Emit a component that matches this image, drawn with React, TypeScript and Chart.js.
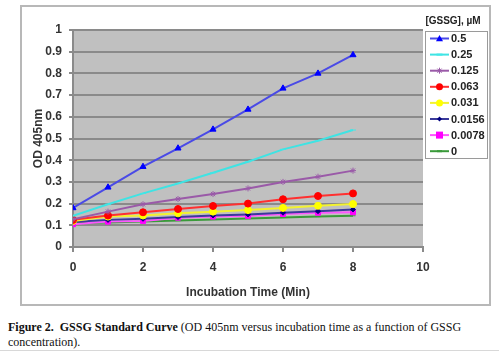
import React, { useEffect, useRef } from 'react';
import { Chart, registerables } from 'chart.js';

Chart.register(...registerables);

// ---- data ----
const times = [0, 1, 2, 3, 4, 5, 6, 7, 8];
const seriesLabels = ['0.5', '0.25', '0.125', '0.063', '0.031', '0.0156', '0.0078', '0'];
const s0500 = [0.18, 0.275, 0.37, 0.455, 0.542, 0.634, 0.731, 0.8, 0.885];
const s0250 = [0.144, 0.197, 0.247, 0.293, 0.342, 0.393, 0.45, 0.49, 0.539];
const s0125 = [0.128, 0.163, 0.197, 0.221, 0.244, 0.27, 0.3, 0.324, 0.352];
const s0063 = [0.125, 0.145, 0.16, 0.175, 0.189, 0.2, 0.22, 0.235, 0.247];
const s0031 = [0.12, 0.14, 0.145, 0.155, 0.163, 0.17, 0.18, 0.19, 0.198];
const s00156 = [0.115, 0.125, 0.13, 0.138, 0.145, 0.15, 0.158, 0.165, 0.173];
const s00078 = [0.105, 0.117, 0.12, 0.135, 0.14, 0.143, 0.152, 0.158, 0.16];
const s0000 = [0.11, 0.113, 0.118, 0.122, 0.127, 0.131, 0.136, 0.14, 0.144];
const seriesValues = [s0500, s0250, s0125, s0063, s0031, s00156, s00078, s0000];

const legendTitle = '[GSSG], µM';
const xTitle = 'Incubation Time (Min)';
const yTitle = 'OD 405nm';

// ---- styles ----
const lineColors = ['#4a4ae6', '#3fe3e3', '#9a5aa8', '#ff3030', '#f2f230', '#3a3a9a', '#ff55ff', '#3a9a3a'];
const markerColors = ['#0000ff', '#40e8e8', '#9a5aa8', '#ff0000', '#ffff00', '#000080', '#ff00ff', '#3a9a3a'];
const markerStyles = ['triangle', 'line', 'star', 'circle', 'circle', 'rectRot', 'rect', 'line'];
const markerRadius = [3.5, 3, 3, 3.5, 3.5, 2.5, 3.5, 2.5];

const FONT = '"Liberation Sans", Arial, sans-serif';
const GRID = '#8a8a8a';

function drawMarker(ctx: CanvasRenderingContext2D, style: string, x: number, y: number, r: number, color: string) {
  ctx.save();
  ctx.fillStyle = color;
  ctx.strokeStyle = color;
  ctx.lineWidth = 1;
  ctx.beginPath();
  if (style === 'triangle') {
    ctx.moveTo(x, y - r);
    ctx.lineTo(x + r, y + r * 0.8);
    ctx.lineTo(x - r, y + r * 0.8);
    ctx.closePath();
    ctx.fill();
  } else if (style === 'circle') {
    ctx.arc(x, y, r, 0, Math.PI * 2);
    ctx.fill();
  } else if (style === 'rect') {
    ctx.rect(x - r, y - r, 2 * r, 2 * r);
    ctx.fill();
  } else if (style === 'rectRot') {
    ctx.moveTo(x, y - r);
    ctx.lineTo(x + r, y);
    ctx.lineTo(x, y + r);
    ctx.lineTo(x - r, y);
    ctx.closePath();
    ctx.fill();
  } else if (style === 'star') {
    ctx.moveTo(x - r, y);
    ctx.lineTo(x + r, y);
    ctx.moveTo(x, y - r);
    ctx.lineTo(x, y + r);
    ctx.moveTo(x - r * 0.7, y - r * 0.7);
    ctx.lineTo(x + r * 0.7, y + r * 0.7);
    ctx.moveTo(x + r * 0.7, y - r * 0.7);
    ctx.lineTo(x - r * 0.7, y + r * 0.7);
    ctx.stroke();
  } else {
    ctx.moveTo(x - r, y);
    ctx.lineTo(x + r, y);
    ctx.lineWidth = 2;
    ctx.stroke();
  }
  ctx.restore();
}

const bgPlugin = {
  id: 'plotBg',
  beforeDraw(chart: any) {
    const { ctx, chartArea } = chart;
    if (!chartArea) return;
    ctx.save();
    ctx.fillStyle = '#c0c0c0';
    ctx.fillRect(chartArea.left, chartArea.top, chartArea.right - chartArea.left, chartArea.bottom - chartArea.top);
    ctx.restore();
  },
};

const legendPlugin = {
  id: 'boxLegend',
  afterDraw(chart: any) {
    const ctx: CanvasRenderingContext2D = chart.ctx;
    const area = chart.chartArea;
    const boxLeft = area.right + 2;
    const boxTop = area.top + 1;
    const boxW = 62;
    const boxH = 127;
    ctx.save();
    // title
    ctx.font = 'bold 10px ' + FONT;
    ctx.fillStyle = '#222';
    ctx.textAlign = 'center';
    ctx.textBaseline = 'middle';
    ctx.fillText(legendTitle, boxLeft + 28, area.top - 9);
    // box
    ctx.fillStyle = '#ffffff';
    ctx.fillRect(boxLeft, boxTop, boxW, boxH);
    ctx.strokeStyle = '#9a9a9a';
    ctx.lineWidth = 1;
    ctx.strokeRect(boxLeft + 0.5, boxTop + 0.5, boxW, boxH);
    // items
    ctx.font = 'bold 11px ' + FONT;
    ctx.textAlign = 'left';
    seriesLabels.forEach((lab, i) => {
      const y = boxTop + 7.5 + i * 16.1;
      const x0 = boxLeft + 5;
      const x1 = boxLeft + 24;
      ctx.strokeStyle = lineColors[i];
      ctx.lineWidth = 2;
      ctx.beginPath();
      ctx.moveTo(x0, y);
      ctx.lineTo(x1, y);
      ctx.stroke();
      drawMarker(ctx, markerStyles[i], (x0 + x1) / 2, y, markerRadius[i], markerColors[i]);
      ctx.fillStyle = '#222';
      ctx.fillText(lab, x1 + 2, y + 0.5);
    });
    ctx.restore();
  },
};

export default function App() {
  const ref = useRef<HTMLCanvasElement | null>(null);

  useEffect(() => {
    if (!ref.current) return;
    const datasets = seriesLabels.map((lab, i) => ({
      label: lab,
      data: times.map((t, j) => ({ x: t, y: seriesValues[i][j] })),
      borderColor: lineColors[i],
      backgroundColor: markerColors[i],
      borderWidth: 2,
      pointStyle: markerStyles[i] as any,
      pointRadius: markerRadius[i],
      pointBorderColor: markerColors[i],
      pointBackgroundColor: markerColors[i],
      pointBorderWidth: 1,
      tension: 0,
      fill: false,
    }));
    const chart = new Chart(ref.current, {
      type: 'line',
      data: { datasets },
      options: {
        animation: false,
        responsive: false,
        maintainAspectRatio: false,
        layout: { padding: { top: 23, right: 66, left: 0, bottom: 0 } },
        plugins: { legend: { display: false }, tooltip: { enabled: false } },
        scales: {
          x: {
            type: 'linear',
            min: 0,
            max: 10,
            afterFit: (s: any) => { s.height = 57; },
            ticks: { stepSize: 2, color: '#333', font: { family: FONT, size: 12, weight: 'bold' }, padding: 8 },
            grid: { drawOnChartArea: false, drawTicks: true, tickLength: 5, color: GRID, lineWidth: 2 },
            border: { color: GRID, width: 2 },
            title: { display: true, text: xTitle, color: '#333', font: { family: FONT, size: 12, weight: 'bold' }, padding: { top: 0, bottom: 4 } },
          },
          y: {
            type: 'linear',
            min: 0,
            max: 1,
            afterFit: (s: any) => { s.width = 51; },
            ticks: {
              stepSize: 0.1,
              color: '#333',
              font: { family: FONT, size: 12, weight: 'bold' },
              padding: 7,
              callback: (v: any) => String(Number(Number(v).toFixed(2))),
            },
            grid: { color: GRID, lineWidth: 2, tickLength: 4 },
            border: { color: GRID, width: 2 },
            title: { display: true, text: yTitle, color: '#333', font: { family: FONT, size: 12, weight: 'bold' }, padding: { top: 9, bottom: 0 } },
          },
        },
      },
      plugins: [bgPlugin, legendPlugin],
    });
    return () => chart.destroy();
  }, []);

  return (
    <div style={{ position: 'fixed', left: 0, top: 0, width: 499, height: 352, background: '#fff', overflow: 'hidden' }}>
      <div style={{ position: 'absolute', left: 20, top: 5, width: 471, height: 301, border: '2px solid #b8b8b8', boxSizing: 'border-box' }}>
        <canvas ref={ref} width={467} height={297} style={{ display: 'block', width: 467, height: 297 }} />
      </div>
      <div style={{ position: 'absolute', left: 8, top: 320, width: 480, fontFamily: '"Liberation Serif", "Times New Roman", serif', fontSize: 12, lineHeight: '15px', color: '#111' }}>
        <b>Figure 2.&nbsp; GSSG Standard Curve</b> (OD 405nm versus incubation time as a function of GSSG concentration).
      </div>
      <div style={{ position: 'absolute', left: 0, top: 350, width: 499, height: 1, background: '#d8d8d8' }} />
    </div>
  );
}
